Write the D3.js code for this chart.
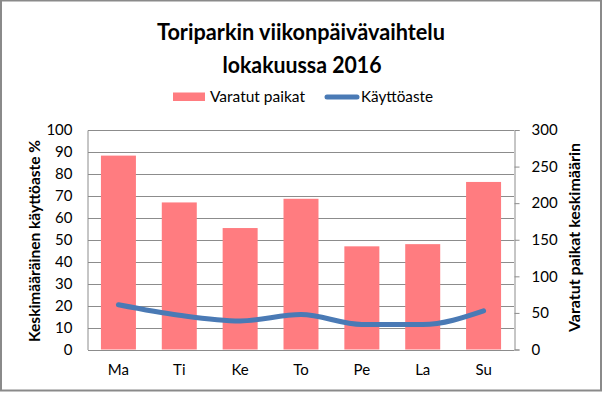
<!DOCTYPE html>
<html>
<head>
<meta charset="utf-8">
<script src="https://cdn.jsdelivr.net/npm/d3@7"></script>
<style>
  body { margin: 0; background: #fff; }
  svg { display: block; font-family: Lato, "Open Sans", sans-serif; }
</style>
</head>
<body>
<div id="chart"></div>
<script>
// Chart data
const days = ['Ma', 'Ti', 'Ke', 'To', 'Pe', 'La', 'Su'];
const varatutPaikat = [265, 201, 166, 206, 141, 144, 229];
const kayttoaste = [20.4, 15.6, 13.0, 15.9, 11.4, 11.4, 17.6];
const leftTicks = [0, 10, 20, 30, 40, 50, 60, 70, 80, 90, 100];
const rightTicks = [0, 50, 100, 150, 200, 250, 300];

const W = 602, H = 393;
const plot = { left: 88, right: 514, top: 130, bottom: 349.5 };
const barColor = '#ff7c80';
const lineColor = '#4a7ab5';

const svg = d3.select('#chart').append('svg')
    .attr('width', W)
    .attr('height', H);

// Outer frame
svg.append('rect')
    .attr('x', 1).attr('y', 0.5)
    .attr('width', W - 2).attr('height', H - 3)
    .attr('fill', '#fff')
    .attr('stroke', '#8a8a8a')
    .attr('stroke-width', 2);

// Scales
const x = d3.scaleBand()
    .domain(days)
    .range([plot.left, plot.right]);

const yLeft = d3.scaleLinear()
    .domain([0, 100])
    .range([plot.bottom, plot.top]);

const yRight = d3.scaleLinear()
    .domain([0, 300])
    .range([plot.bottom, plot.top]);

// Gridlines
svg.append('g')
    .selectAll('line')
    .data(leftTicks)
    .enter().append('line')
    .attr('x1', plot.left).attr('x2', plot.right)
    .attr('y1', d => Math.round(yLeft(d)) + 0.5)
    .attr('y2', d => Math.round(yLeft(d)) + 0.5)
    .attr('stroke', '#8c8c8c')
    .attr('stroke-width', 1);

// Bars (right axis)
const barW = x.bandwidth() * 0.575;
svg.append('g')
    .selectAll('rect')
    .data(days)
    .enter().append('rect')
    .attr('x', d => x(d) + (x.bandwidth() - barW) / 2)
    .attr('width', barW)
    .attr('y', (d, i) => yRight(varatutPaikat[i]))
    .attr('height', (d, i) => plot.bottom - yRight(varatutPaikat[i]))
    .attr('fill', barColor);

// Left axis
const axisLeft = svg.append('g')
    .attr('transform', `translate(${plot.left - 0.5},0)`)
    .call(d3.axisLeft(yLeft).tickValues(leftTicks).tickSize(0).tickPadding(15));
axisLeft.select('.domain').attr('stroke', '#8c8c8c');
axisLeft.selectAll('text')
    .attr('font-family', 'Lato, sans-serif')
    .attr('font-size', 15)
    .attr('fill', '#000');

// Right axis
const axisRight = svg.append('g')
    .attr('transform', `translate(${plot.right + 0.5},0)`)
    .call(d3.axisRight(yRight).tickValues(rightTicks).tickSize(5).tickPadding(12));
axisRight.select('.domain').attr('stroke', '#8c8c8c');
axisRight.selectAll('line').attr('stroke', '#8c8c8c');
axisRight.selectAll('text')
    .attr('font-family', 'Lato, sans-serif')
    .attr('font-size', 15)
    .attr('fill', '#000');

// Bottom axis
const axisBottom = svg.append('g')
    .attr('transform', `translate(0,${plot.bottom + 0.5})`)
    .call(d3.axisBottom(x).tickSize(0).tickPadding(14));
axisBottom.select('.domain').attr('stroke', '#8c8c8c');
axisBottom.selectAll('text')
    .attr('font-family', 'Lato, sans-serif')
    .attr('font-size', 15)
    .attr('fill', '#000');

// Smoothed line (left axis)
const line = d3.line()
    .x((d, i) => x(days[i]) + x.bandwidth() / 2)
    .y(d => yLeft(d))
    .curve(d3.curveMonotoneX);

svg.append('path')
    .datum(kayttoaste)
    .attr('fill', 'none')
    .attr('stroke', lineColor)
    .attr('stroke-width', 5)
    .attr('stroke-linecap', 'round')
    .attr('d', line);

// Title
const title = svg.append('text')
    .attr('text-anchor', 'middle')
    .attr('font-weight', 'bold')
    .attr('font-size', 22)
    .attr('fill', '#000');
title.append('tspan')
    .attr('x', 301).attr('y', 39.5)
    .attr('textLength', 288).attr('lengthAdjust', 'spacingAndGlyphs')
    .text('Toriparkin  viikonpäivävaihtelu');
title.append('tspan')
    .attr('x', 302).attr('y', 72.5)
    .attr('textLength', 159).attr('lengthAdjust', 'spacingAndGlyphs')
    .text('lokakuussa  2016');

// Legend
const legend = svg.append('g');
legend.append('rect')
    .attr('x', 173).attr('y', 92.5)
    .attr('width', 32).attr('height', 8.5)
    .attr('fill', barColor);
legend.append('text')
    .attr('x', 210).attr('y', 102)
    .attr('font-size', 15)
    .attr('textLength', 95).attr('lengthAdjust', 'spacingAndGlyphs')
    .text('Varatut paikat');
legend.append('line')
    .attr('x1', 327).attr('x2', 357)
    .attr('y1', 97).attr('y2', 97)
    .attr('stroke', lineColor)
    .attr('stroke-width', 5)
    .attr('stroke-linecap', 'round');
legend.append('text')
    .attr('x', 361).attr('y', 102)
    .attr('font-size', 15)
    .attr('textLength', 72).attr('lengthAdjust', 'spacingAndGlyphs')
    .text('Käyttöaste');

// Axis titles
svg.append('text')
    .attr('transform', 'translate(40,241) rotate(-90)')
    .attr('text-anchor', 'middle')
    .attr('font-weight', 'bold')
    .attr('font-size', 15)
    .attr('textLength', 202).attr('lengthAdjust', 'spacingAndGlyphs')
    .text('Keskimääräinen käyttöaste %');

svg.append('text')
    .attr('transform', 'translate(580,237.5) rotate(-90)')
    .attr('text-anchor', 'middle')
    .attr('font-weight', 'bold')
    .attr('font-size', 15)
    .attr('textLength', 189).attr('lengthAdjust', 'spacingAndGlyphs')
    .text('Varatut paikat  keskimäärin');
</script>
</body>
</html>
